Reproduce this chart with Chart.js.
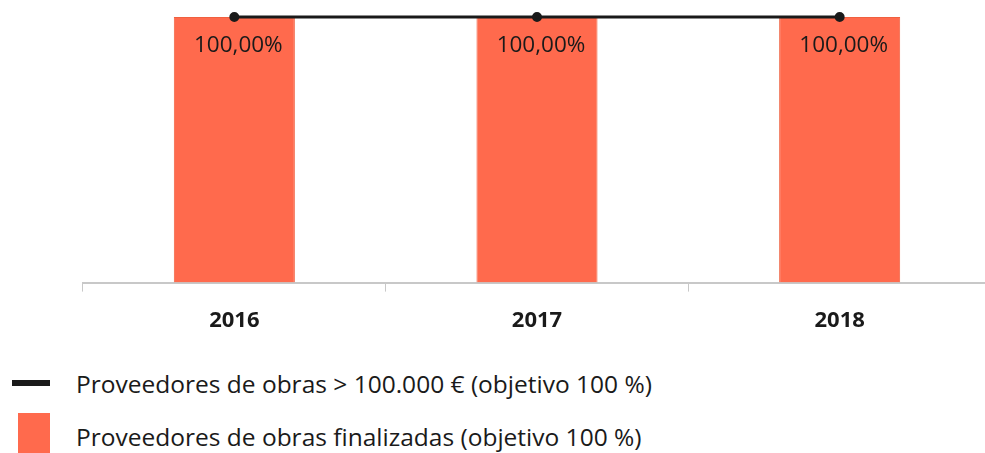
<!DOCTYPE html>
<html>
<head>
<meta charset="utf-8">
<script src="https://cdn.jsdelivr.net/npm/chart.js"></script>
<style>
  html, body { margin: 0; padding: 0; background: #fff; overflow: hidden; }
  #wrap { position: relative; width: 985px; height: 453px; overflow: hidden; }
  #box { position: absolute; left: 0; top: 0; width: 998px; height: 350px; }
  .leg { position: absolute; font-family: "Open Sans", sans-serif; font-size: 24.5px; color: #1a1a1a; white-space: nowrap; line-height: 1; }
</style>
</head>
<body>
<div id="wrap">
  <div id="box"><canvas id="myChart"></canvas></div>
  <div id="sw1" style="position:absolute;left:12px;top:380px;width:38px;height:6px;background:#1a1a1a;"></div>
  <div id="lab1" class="leg" style="left:76px;top:372px;"></div>
  <div id="sw2" style="position:absolute;left:18px;top:413px;width:32px;height:40px;background:#ff6a4d;"></div>
  <div id="lab2" class="leg" style="left:76px;top:425px;"></div>
</div>
<script>
// data
var years = ['2016', '2017', '2018'];
var finalizadas = [100, 100, 100];
var mayores100k = [100, 100, 100];
var lineLabel = 'Proveedores de obras > 100.000 € (objetivo 100 %)';
var barLabel = 'Proveedores de obras finalizadas (objetivo 100 %)';

document.getElementById('lab1').textContent = lineLabel;
document.getElementById('lab2').textContent = barLabel;

// writes "100,00%" inside the top of each bar
var barValues = {
    id: 'barValues',
    afterDatasetsDraw: function(chart) {
        var ctx = chart.ctx;
        var meta = chart.getDatasetMeta(1);
        ctx.save();
        ctx.font = '22.5px "Open Sans", sans-serif';
        ctx.fillStyle = '#1a1a1a';
        ctx.textAlign = 'center';
        ctx.textBaseline = 'middle';
        meta.data.forEach(function(bar, i) {
            var v = chart.data.datasets[1].data[i];
            ctx.fillText(v.toFixed(2).replace('.', ',') + '%', bar.x + 4, bar.y + 29);
        });
        ctx.restore();
    }
};

var ctx = document.getElementById('myChart').getContext('2d');
var myChart = new Chart(ctx, {
    type: 'bar',
    data: {
        labels: years,
        datasets: [{
            type: 'line',
            label: lineLabel,
            data: mayores100k,
            borderColor: '#1a1a1a',
            backgroundColor: '#1a1a1a',
            borderWidth: 3,
            pointRadius: 3.5,
            pointBackgroundColor: '#1a1a1a',
            order: 0,
            clip: false
        }, {
            label: barLabel,
            data: finalizadas,
            backgroundColor: '#ff6a4d',
            borderColor: '#f0603f',
            borderWidth: 1,
            categoryPercentage: 1,
            barPercentage: 0.4,
            order: 1
        }]
    },
    options: {
        responsive: true,
        maintainAspectRatio: false,
        animation: false,
        layout: { padding: { top: 17, left: 83, right: 0, bottom: 0 } },
        plugins: { legend: { display: false }, tooltip: { enabled: false } },
        scales: {
            x: {
                grid: {
                    offset: true,
                    drawOnChartArea: false,
                    color: '#c8c8c8',
                    tickLength: 9
                },
                border: { color: '#c8c8c8', width: 2 },
                ticks: {
                    color: '#1a1a1a',
                    padding: 16,
                    font: { family: '"Open Sans", sans-serif', size: 22, weight: 'bold' }
                }
            },
            y: {
                display: false,
                min: 0,
                max: 100
            }
        }
    },
    plugins: [barValues]
});
</script>
</body>
</html>
